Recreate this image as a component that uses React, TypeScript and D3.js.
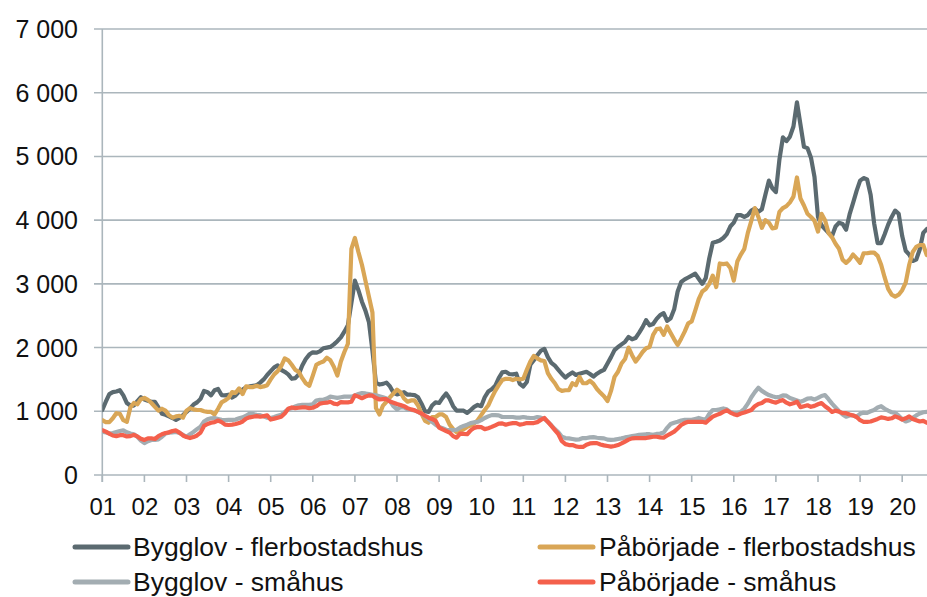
import React from "react";
import * as d3 from "d3";

const yearLabels = ["01","02","03","04","05","06","07","08","09","10","11","12","13","14","15","16","17","18","19","20"];
const yTicks = [0, 1000, 2000, 3000, 4000, 5000, 6000, 7000];

// Monthly values from Jan 2001
const bygglovFler = [
  1020,1150,1270,1300,1310,1330,1250,1130,1090,1090,1160,1220,
  1185,1165,1150,1150,1060,960,945,920,895,865,895,940,
  990,1045,1105,1140,1195,1320,1300,1250,1330,1350,1255,1250,
  1260,1215,1250,1310,1340,1375,1390,1400,1410,1450,1500,1570,
  1630,1690,1720,1650,1620,1580,1510,1520,1580,1720,1820,1890,
  1925,1920,1940,1990,2000,2010,2050,2100,2160,2250,2350,2700,
  3050,2900,2720,2580,2400,1950,1450,1420,1430,1450,1390,1290,
  1265,1280,1300,1260,1260,1255,1220,1120,1000,990,1090,1140,
  1130,1210,1280,1200,1080,1010,1010,1010,975,1020,1070,1100,
  1080,1220,1310,1345,1400,1520,1610,1620,1585,1580,1590,1430,
  1390,1460,1730,1800,1880,1950,1980,1850,1760,1715,1650,1585,
  1530,1575,1610,1570,1590,1605,1620,1585,1545,1590,1625,1650,
  1750,1850,1960,2010,2050,2090,2165,2130,2150,2230,2320,2430,
  2350,2370,2450,2510,2540,2420,2460,2600,2880,3030,3070,3100,
  3130,3160,3080,3000,3090,3400,3645,3660,3680,3720,3780,3900,
  3960,4080,4080,4050,4080,4150,4180,4130,4170,4400,4620,4500,
  4440,4950,5300,5240,5310,5470,5850,5500,5150,5130,4980,4680,
  4050,3920,3860,3800,3750,3900,3960,3940,3850,4090,4270,4460,
  4620,4660,4640,4400,3950,3640,3640,3780,3930,4050,4150,4100,
  3750,3520,3460,3360,3380,3540,3800,3860
];

const paborjadeFler = [
  860,830,830,890,970,960,860,835,1060,1130,1110,1190,
  1210,1180,1130,1070,1010,1040,1010,940,900,920,930,900,
  1010,1050,1030,1020,1020,1000,990,990,950,1040,1140,1170,
  1210,1300,1290,1360,1270,1390,1380,1380,1400,1380,1390,1410,
  1500,1580,1630,1710,1830,1800,1730,1650,1620,1520,1440,1400,
  1560,1730,1760,1780,1840,1800,1700,1560,1780,1930,2060,3550,
  3720,3500,3300,3050,2800,2550,1050,950,1090,1150,1220,1280,
  1340,1300,1200,1150,1170,1170,1090,960,850,820,910,910,
  950,950,910,790,720,670,690,720,755,775,810,860,
  940,1020,1090,1210,1320,1410,1490,1510,1510,1490,1510,1500,
  1510,1650,1780,1870,1830,1800,1790,1600,1510,1440,1350,1320,
  1330,1330,1440,1410,1540,1440,1440,1480,1430,1350,1290,1235,
  1160,1320,1540,1620,1750,1820,2000,1880,1780,1850,1930,1990,
  2010,2200,2290,2300,2200,2330,2230,2130,2040,2140,2250,2380,
  2410,2580,2760,2880,2920,3000,3130,2950,3320,3310,3320,3250,
  3050,3350,3460,3550,3800,3990,4190,4050,3880,4000,3960,3870,
  3880,4130,4190,4220,4280,4370,4670,4340,4230,4100,4050,3990,
  3820,4100,4000,3800,3730,3630,3550,3380,3330,3380,3460,3400,
  3330,3480,3480,3490,3490,3440,3300,3100,2920,2830,2800,2830,
  2900,3020,3300,3500,3580,3610,3610,3450
];

const bygglovSma = [
  680,670,650,660,675,690,700,670,650,640,600,540,
  500,530,550,550,560,600,650,665,670,675,660,630,
  600,640,675,720,760,840,875,890,895,880,865,860,
  865,865,870,890,905,930,965,955,945,940,920,900,
  895,910,930,945,990,1035,1050,1075,1095,1100,1100,1100,
  1110,1170,1180,1180,1200,1230,1220,1210,1220,1230,1230,1230,
  1250,1270,1285,1280,1270,1260,1250,1235,1220,1200,1160,1080,
  1030,1065,1060,1030,1020,1015,990,960,920,880,835,790,
  755,735,710,705,705,710,745,770,790,815,825,835,
  860,895,920,940,940,935,910,910,910,910,900,900,
  910,900,895,895,910,900,880,835,780,720,670,600,
  580,575,565,555,560,580,580,590,595,585,580,575,
  555,550,555,565,575,590,600,610,620,630,635,640,
  640,630,645,650,665,740,800,820,835,855,865,865,
  865,880,895,880,865,960,1020,1020,1030,1045,1030,990,
  975,975,990,1040,1120,1220,1300,1370,1320,1285,1255,1235,
  1220,1225,1250,1245,1210,1190,1170,1150,1170,1200,1205,1185,
  1210,1240,1255,1190,1120,1060,1000,950,915,935,935,915,
  960,980,975,1000,1020,1060,1080,1040,1010,985,975,930,
  880,840,860,900,935,965,985,990
];

const paborjadeSma = [
  705,680,650,620,610,625,625,605,610,630,605,570,
  550,575,575,565,610,640,660,670,690,700,665,620,
  595,580,595,620,665,770,800,820,830,855,830,790,
  785,790,800,815,840,885,905,915,925,915,925,935,
  870,885,900,915,965,1040,1060,1050,1055,1060,1060,1050,
  1055,1080,1120,1130,1135,1150,1120,1110,1145,1140,1140,1150,
  1250,1230,1205,1230,1250,1245,1210,1185,1190,1190,1155,1135,
  1115,1100,1080,1050,1030,1015,990,965,930,900,880,850,
  745,715,690,665,610,585,650,645,640,700,740,755,
  750,720,735,755,780,805,810,790,805,815,815,790,
  800,815,815,815,830,865,895,835,770,705,640,530,
  485,470,470,450,440,440,475,495,500,500,480,465,
  455,445,455,470,495,525,555,575,580,580,580,580,
  590,600,600,590,585,620,650,680,730,785,815,835,
  835,835,835,835,820,870,915,940,960,990,1015,980,
  955,940,965,980,1000,1020,1080,1115,1130,1170,1170,1150,
  1135,1160,1175,1135,1110,1125,1150,1065,1080,1095,1070,1085,
  1110,1130,1080,1040,990,1010,995,970,970,950,935,910,
  860,835,835,840,860,880,905,895,880,890,920,900,
  870,890,920,880,860,840,850,820
];

const seriesNames = [
  "Bygglov - flerbostadshus",
  "Påbörjade - flerbostadshus",
  "Bygglov - småhus",
  "Påbörjade - småhus",
];
const seriesColors = ["#5b6a70", "#d9a656", "#a3adb2", "#f4604c"];

export default function App() {
  const W = 927;
  const H = 597;
  const left = 102.3;
  const yearW = 42.1;
  const x = d3.scaleLinear().domain([0, 19]).range([left, left + 19 * yearW]);
  const y = d3.scaleLinear().domain([0, 7000]).range([475, 29]);
  const line = d3
    .line<number>()
    .x((_, i) => x(i / 12))
    .y((d) => y(d))
    .curve(d3.curveLinear);

  const allSeries = [bygglovFler, paborjadeFler, bygglovSma, paborjadeSma];
  const font = "'Liberation Sans', Arial, sans-serif";
  const gridColor = "#abb6bc";

  const legendPos = [
    { lx: 75, tx: 133, ty: 547 },
    { lx: 540, tx: 599, ty: 547 },
    { lx: 75, tx: 133, ty: 582 },
    { lx: 540, tx: 599, ty: 582 },
  ];

  return (
    <svg
      width={W}
      height={H}
      style={{ position: "absolute", left: 0, top: 0, background: "#fff" }}
      fontFamily={font}
    >
      <defs>
        <clipPath id="plot">
          <rect x={left} y={0} width={W - left} height={480} />
        </clipPath>
      </defs>
      {yTicks.map((t) => (
        <g key={t}>
          <line x1={94} x2={W} y1={y(t)} y2={y(t)} stroke={gridColor} strokeWidth={1.6} />
          <text
            x={78}
            y={y(t)}
            textAnchor="end"
            dominantBaseline="central"
            fontSize={25}
            fill="#111"
          >
            {d3.format(",")(t).replace(/,/g, "\u00a0")}
          </text>
        </g>
      ))}
      <line x1={left} x2={left} y1={y(7000)} y2={y(0) + 7} stroke={gridColor} strokeWidth={1.6} />
      {yearLabels.map((lab, k) => (
        <g key={lab}>
          <line x1={x(k)} x2={x(k)} y1={y(0)} y2={y(0) + 7} stroke={gridColor} strokeWidth={1.6} />
          <text x={x(k) + 0.5} y={515} textAnchor="middle" fontSize={24} fill="#111">
            {lab}
          </text>
        </g>
      ))}
      <g clipPath="url(#plot)">
        {allSeries.map((s, k) => (
          <path
            key={k}
            d={line(s) || ""}
            fill="none"
            stroke={seriesColors[k]}
            strokeWidth={4.2}
            strokeLinejoin="round"
            strokeLinecap="round"
          />
        ))}
      </g>
      {seriesNames.map((name, k) => (
        <g key={name}>
          <line
            x1={legendPos[k].lx}
            x2={legendPos[k].lx + 53}
            y1={legendPos[k].ty}
            y2={legendPos[k].ty}
            stroke={seriesColors[k]}
            strokeWidth={5}
            strokeLinecap="round"
          />
          <text
            x={legendPos[k].tx}
            y={legendPos[k].ty}
            dominantBaseline="central"
            fontSize={26.5}
            fill="#111"
          >
            {name}
          </text>
        </g>
      ))}
    </svg>
  );
}
